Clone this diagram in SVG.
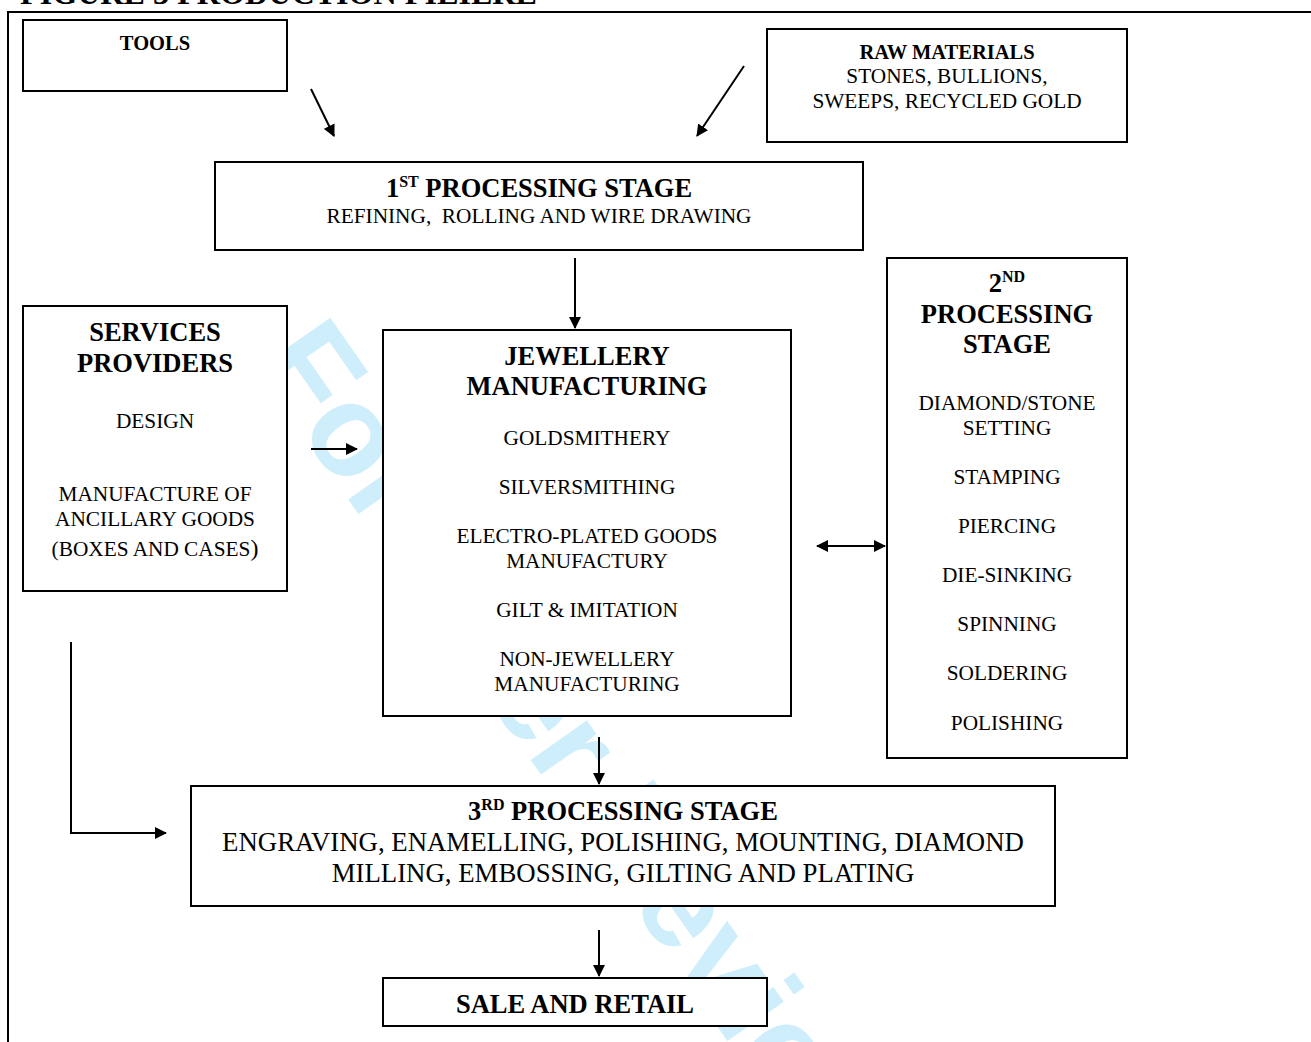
<svg xmlns="http://www.w3.org/2000/svg" width="1311" height="1042" viewBox="0 0 1311 1042">
<defs>
<style>
.bx{fill:#fff;stroke:#000;stroke-width:2}
.t{font-family:"Liberation Serif","Times New Roman",serif;fill:#000;text-anchor:middle}
.r{font-size:21.3px}
.b{font-size:26.5px;font-weight:bold}
.bs{font-size:20.5px;font-weight:bold}
.l{font-size:26.8px}
.c{stroke:#000;stroke-width:2;fill:none}
.wm{font-family:"Liberation Sans",Arial,sans-serif;font-weight:bold;font-size:130px;fill:#cfeefb}
</style>
<marker id="ah" viewBox="0 0 12 12" refX="11" refY="6" markerWidth="12" markerHeight="12" markerUnits="userSpaceOnUse" orient="auto-start-reverse">
<path d="M0,0 L12,6 L0,12 z" fill="#000"/>
</marker>
</defs>
<rect width="1311" height="1042" fill="#fff"/>
<text x="20" y="4" font-family="Liberation Serif,serif" font-weight="bold" font-size="32" textLength="517" lengthAdjust="spacingAndGlyphs">FIGURE 3 PRODUCTION FILIERE</text>
<path d="M8,1042 V12 H1311" class="c"/>
<text class="wm" transform="translate(252,362) rotate(55)">For Peer Review</text>
<g id="connectors">
<line class="c" x1="311" y1="89" x2="334" y2="136" marker-end="url(#ah)"/>
<line class="c" x1="744" y1="66" x2="697" y2="136" marker-end="url(#ah)"/>
<line class="c" x1="575" y1="258" x2="575" y2="328" marker-end="url(#ah)"/>
<line class="c" x1="311" y1="449" x2="357" y2="449" marker-end="url(#ah)"/>
<line class="c" x1="817" y1="546" x2="885" y2="546" marker-start="url(#ah)" marker-end="url(#ah)"/>
<line class="c" x1="599" y1="737" x2="599" y2="784" marker-end="url(#ah)"/>
<path class="c" d="M71,642 V833 H166" marker-end="url(#ah)"/>
<line class="c" x1="599" y1="930" x2="599" y2="976" marker-end="url(#ah)"/>
</g>
<g id="tools">
<rect class="bx" x="23" y="20" width="264" height="71"/>
<text class="t bs" x="155" y="50">TOOLS</text>
</g>
<g id="raw-materials">
<rect class="bx" x="767" y="29" width="360" height="113"/>
<text class="t bs" x="947" y="59">RAW MATERIALS</text>
<text class="t r" x="947" y="83">STONES, BULLIONS,</text>
<text class="t r" x="947" y="108">SWEEPS, RECYCLED GOLD</text>
</g>
<g id="stage1">
<rect class="bx" x="215" y="162" width="648" height="88"/>
<text class="t b" x="539" y="197">1<tspan font-size="16" dy="-10">ST</tspan><tspan dy="10"> PROCESSING STAGE</tspan></text>
<text class="t r" x="539" y="223" xml:space="preserve" style="white-space:pre">REFINING,  ROLLING AND WIRE DRAWING</text>
</g>
<g id="services">
<rect class="bx" x="23" y="306" width="264" height="285"/>
<text class="t b" x="155" y="341">SERVICES</text>
<text class="t b" x="155" y="372">PROVIDERS</text>
<text class="t r" x="155" y="428">DESIGN</text>
<text class="t r" x="155" y="501">MANUFACTURE OF</text>
<text class="t r" x="155" y="526">ANCILLARY GOODS</text>
<text class="t r" x="155" y="556">(BOXES AND CASES<tspan font-size="24">)</tspan></text>
</g>
<g id="jewellery">
<rect class="bx" x="383" y="330" width="408" height="386"/>
<text class="t b" x="587" y="365">JEWELLERY</text>
<text class="t b" x="587" y="395">MANUFACTURING</text>
<text class="t r" x="587" y="445">GOLDSMITHERY</text>
<text class="t r" x="587" y="494">SILVERSMITHING</text>
<text class="t r" x="587" y="543">ELECTRO-PLATED GOODS</text>
<text class="t r" x="587" y="568">MANUFACTURY</text>
<text class="t r" x="587" y="617">GILT &amp; IMITATION</text>
<text class="t r" x="587" y="666">NON-JEWELLERY</text>
<text class="t r" x="587" y="691">MANUFACTURING</text>
</g>
<g id="stage2">
<rect class="bx" x="887" y="258" width="240" height="500"/>
<text class="t b" x="1007" y="292">2<tspan font-size="16" dy="-10">ND</tspan></text>
<text class="t b" x="1007" y="323">PROCESSING</text>
<text class="t b" x="1007" y="353">STAGE</text>
<text class="t r" x="1007" y="410">DIAMOND/STONE</text>
<text class="t r" x="1007" y="435">SETTING</text>
<text class="t r" x="1007" y="484">STAMPING</text>
<text class="t r" x="1007" y="533">PIERCING</text>
<text class="t r" x="1007" y="582">DIE-SINKING</text>
<text class="t r" x="1007" y="631">SPINNING</text>
<text class="t r" x="1007" y="680">SOLDERING</text>
<text class="t r" x="1007" y="730">POLISHING</text>
</g>
<g id="stage3">
<rect class="bx" x="191" y="786" width="864" height="120"/>
<text class="t b" x="623" y="820">3<tspan font-size="16" dy="-10">RD</tspan><tspan dy="10"> PROCESSING STAGE</tspan></text>
<text class="t l" x="623" y="851">ENGRAVING, ENAMELLING, POLISHING, MOUNTING, DIAMOND</text>
<text class="t l" x="623" y="882">MILLING, EMBOSSING, GILTING AND PLATING</text>
</g>
<g id="sale">
<rect class="bx" x="383" y="978" width="384" height="48"/>
<text class="t b" x="575" y="1013">SALE AND RETAIL</text>
</g>
</svg>
